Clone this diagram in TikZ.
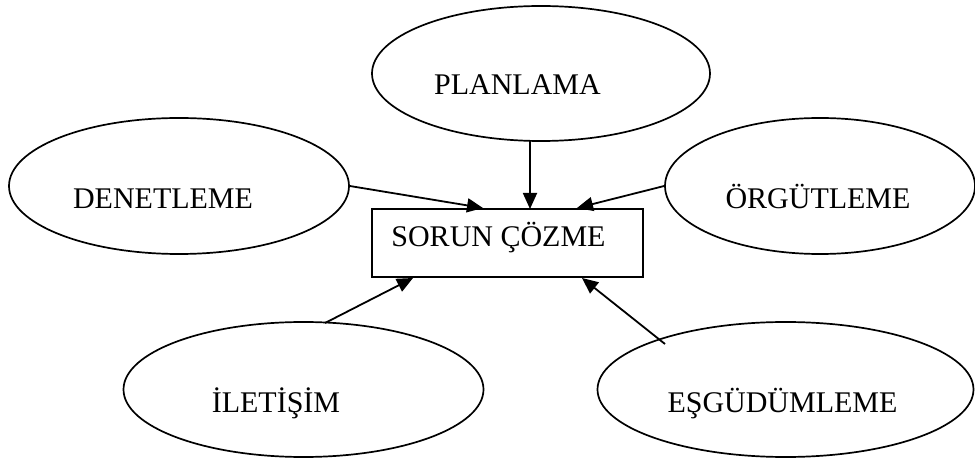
\documentclass[tikz,border=0pt]{standalone}
\usepackage{fontspec}
\setmainfont{Liberation Serif}
\usetikzlibrary{shapes.geometric,arrows.meta}

\begin{document}
\begin{tikzpicture}[x=1pt,y=-1pt,
  oval/.style={draw,ellipse,line width=1.7pt,inner sep=0pt},
  lbl/.style={anchor=base,inner sep=0pt,font=\fontsize{30}{36}\selectfont},
  boxnode/.style={draw,rectangle,line width=1.7pt,inner sep=0pt},
  link/.style={line width=1.8pt,-{Triangle[length=16pt,width=14pt]}}]
  \useasboundingbox (0,0) rectangle (975,462);

  % surrounding ellipses
  \node[oval,minimum width=338pt,minimum height=135pt] (plan) at (541,73.5) {};
  \node[oval,minimum width=340pt,minimum height=136pt] (den)  at (179,186) {};
  \node[oval,minimum width=310pt,minimum height=136pt] (org)  at (820,186) {};
  \node[oval,minimum width=360pt,minimum height=135pt] (ilet) at (303.5,389.5) {};
  \node[oval,minimum width=376pt,minimum height=135pt] (esg)  at (785.5,389.5) {};

  % central box
  \node[boxnode,minimum width=271pt,minimum height=68pt] (box) at (507.5,243) {};

  % labels
  \node[lbl] (tplan) at (517.5,95)  {PLANLAMA};
  \node[lbl] (tden)  at (163,209)   {DENETLEME};
  \node[lbl] (torg)  at (818,209)   {ÖRGÜTLEME};
  \node[lbl] (tbox)  at (498.5,247) {SORUN ÇÖZME};
  \node[lbl] (tilet) at (276,412)   {İLETİŞİM};
  \node[lbl] (tesg)  at (782.5,412) {EŞGÜDÜMLEME};

  % connector end points
  \coordinate (planout) at (530,141);
  \coordinate (iletout) at (325,323);
  \coordinate (esgout)  at (665,344);
  \coordinate (indenl)  at (483,208);
  \coordinate (inplan)  at (530,209);
  \coordinate (inorg)   at (577,208);
  \coordinate (inilet)  at (413,278);
  \coordinate (inesg)   at (582,278);

  % connectors
  \draw[link] (planout) -- (inplan);
  \draw[link] (den.east) -- (indenl);
  \draw[link] (org.west) -- (inorg);
  \draw[link] (iletout) -- (inilet);
  \draw[link] (esgout) -- (inesg);
\end{tikzpicture}
\end{document}
